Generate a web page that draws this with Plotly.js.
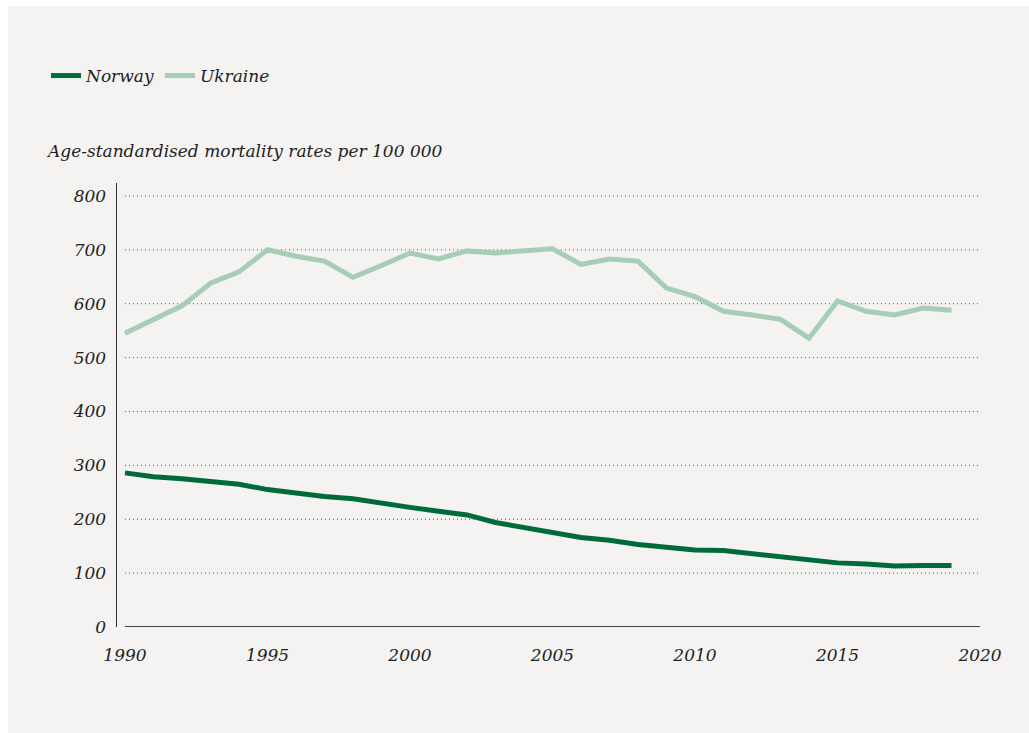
<!DOCTYPE html>
<html>
<head>
<meta charset="utf-8">
<script src="https://cdn.plot.ly/plotly-3.0.1.min.js"></script>
<style>
  html, body { margin: 0; padding: 0; background: #ffffff; width: 1029px; height: 733px; overflow: hidden; }
  #chart { position: absolute; left: 8px; top: 6px; width: 1021px; height: 727px; }
</style>
</head>
<body>
<div id="chart"></div>
<script>
const years = [1990,1991,1992,1993,1994,1995,1996,1997,1998,1999,2000,2001,2002,2003,2004,2005,2006,2007,2008,2009,2010,2011,2012,2013,2014,2015,2016,2017,2018,2019];
const norway = [286,279,275,271,265,255,248,242,238,229,222,215,208,194,184,174,166,161,153,148,143,142,136,130,125,119,117,113,114,114];
const ukraine = [545,570,596,638,659,700,688,679,649,671,694,683,698,694,697,702,673,683,679,629,613,586,579,571,536,605,586,579,592,588];
const yTicks = [0,100,200,300,400,500,600,700,800];
const xTicks = [1990,1995,2000,2005,2010,2015,2020];
const seriesNames = ['Norway','Ukraine'];
const yTitle = 'Age-standardised mortality rates per 100 000';

const FONT = 'DejaVu Serif, serif';
const bg = '#f4f3f1';

const traces = [
  { x: years, y: norway, name: seriesNames[0], type: 'scatter', mode: 'lines',
    line: { color: '#006b3a', width: 5 } },
  { x: years, y: ukraine, name: seriesNames[1], type: 'scatter', mode: 'lines',
    line: { color: '#a6cdb5', width: 5 } }
];

const shapes = yTicks.filter(v => v > 0).map(v => ({
  type: 'line', xref: 'x', yref: 'y', x0: 1990, x1: 2020, y0: v, y1: v,
  line: { color: '#555555', width: 1, dash: '1px,3px' }, layer: 'below'
}));
shapes.push({ type: 'line', xref: 'x', yref: 'y', x0: 1990, x1: 2020, y0: 0, y1: 0,
  line: { color: '#444444', width: 2 }, layer: 'above' });

const layout = {
  width: 1021, height: 727,
  paper_bgcolor: bg, plot_bgcolor: bg,
  margin: { l: 109, r: 49, t: 177, b: 106 },
  font: { family: FONT, color: '#222222', size: 16, style: 'italic' },
  title: { text: yTitle, xref: 'container', yref: 'container', x: 40/1021, xanchor: 'left',
    y: 1 - (151-6)/727, yanchor: 'middle', font: { family: FONT, size: 17, style: 'italic', color: '#222' } },
  showlegend: true,
  legend: { orientation: 'h', xref: 'container', yref: 'container', x: 38/1021, xanchor: 'left',
    y: 1 - (76-6)/727, yanchor: 'middle', font: { family: FONT, size: 17, style: 'italic', color: '#222' },
    bgcolor: 'rgba(0,0,0,0)', itemwidth: 30, tracegroupgap: 0 },
  xaxis: { range: [1989.72, 2020], tickvals: xTicks, ticktext: xTicks.map(String),
    showgrid: false, zeroline: false, showline: false, ticks: '', ticklabelstandoff: 16,
    tickfont: { family: FONT, size: 17, style: 'italic', color: '#222' }, fixedrange: true },
  yaxis: { range: [0, 824], tickvals: yTicks, ticktext: yTicks.map(String),
    showgrid: false, zeroline: false, showline: true, linecolor: '#333333', linewidth: 1.5,
    ticks: '', ticklabelstandoff: 6,
    tickfont: { family: FONT, size: 17, style: 'italic', color: '#222' }, fixedrange: true },
  shapes: shapes
};

Plotly.newPlot('chart', traces, layout, { displayModeBar: false, staticPlot: true });
</script>
</body>
</html>
